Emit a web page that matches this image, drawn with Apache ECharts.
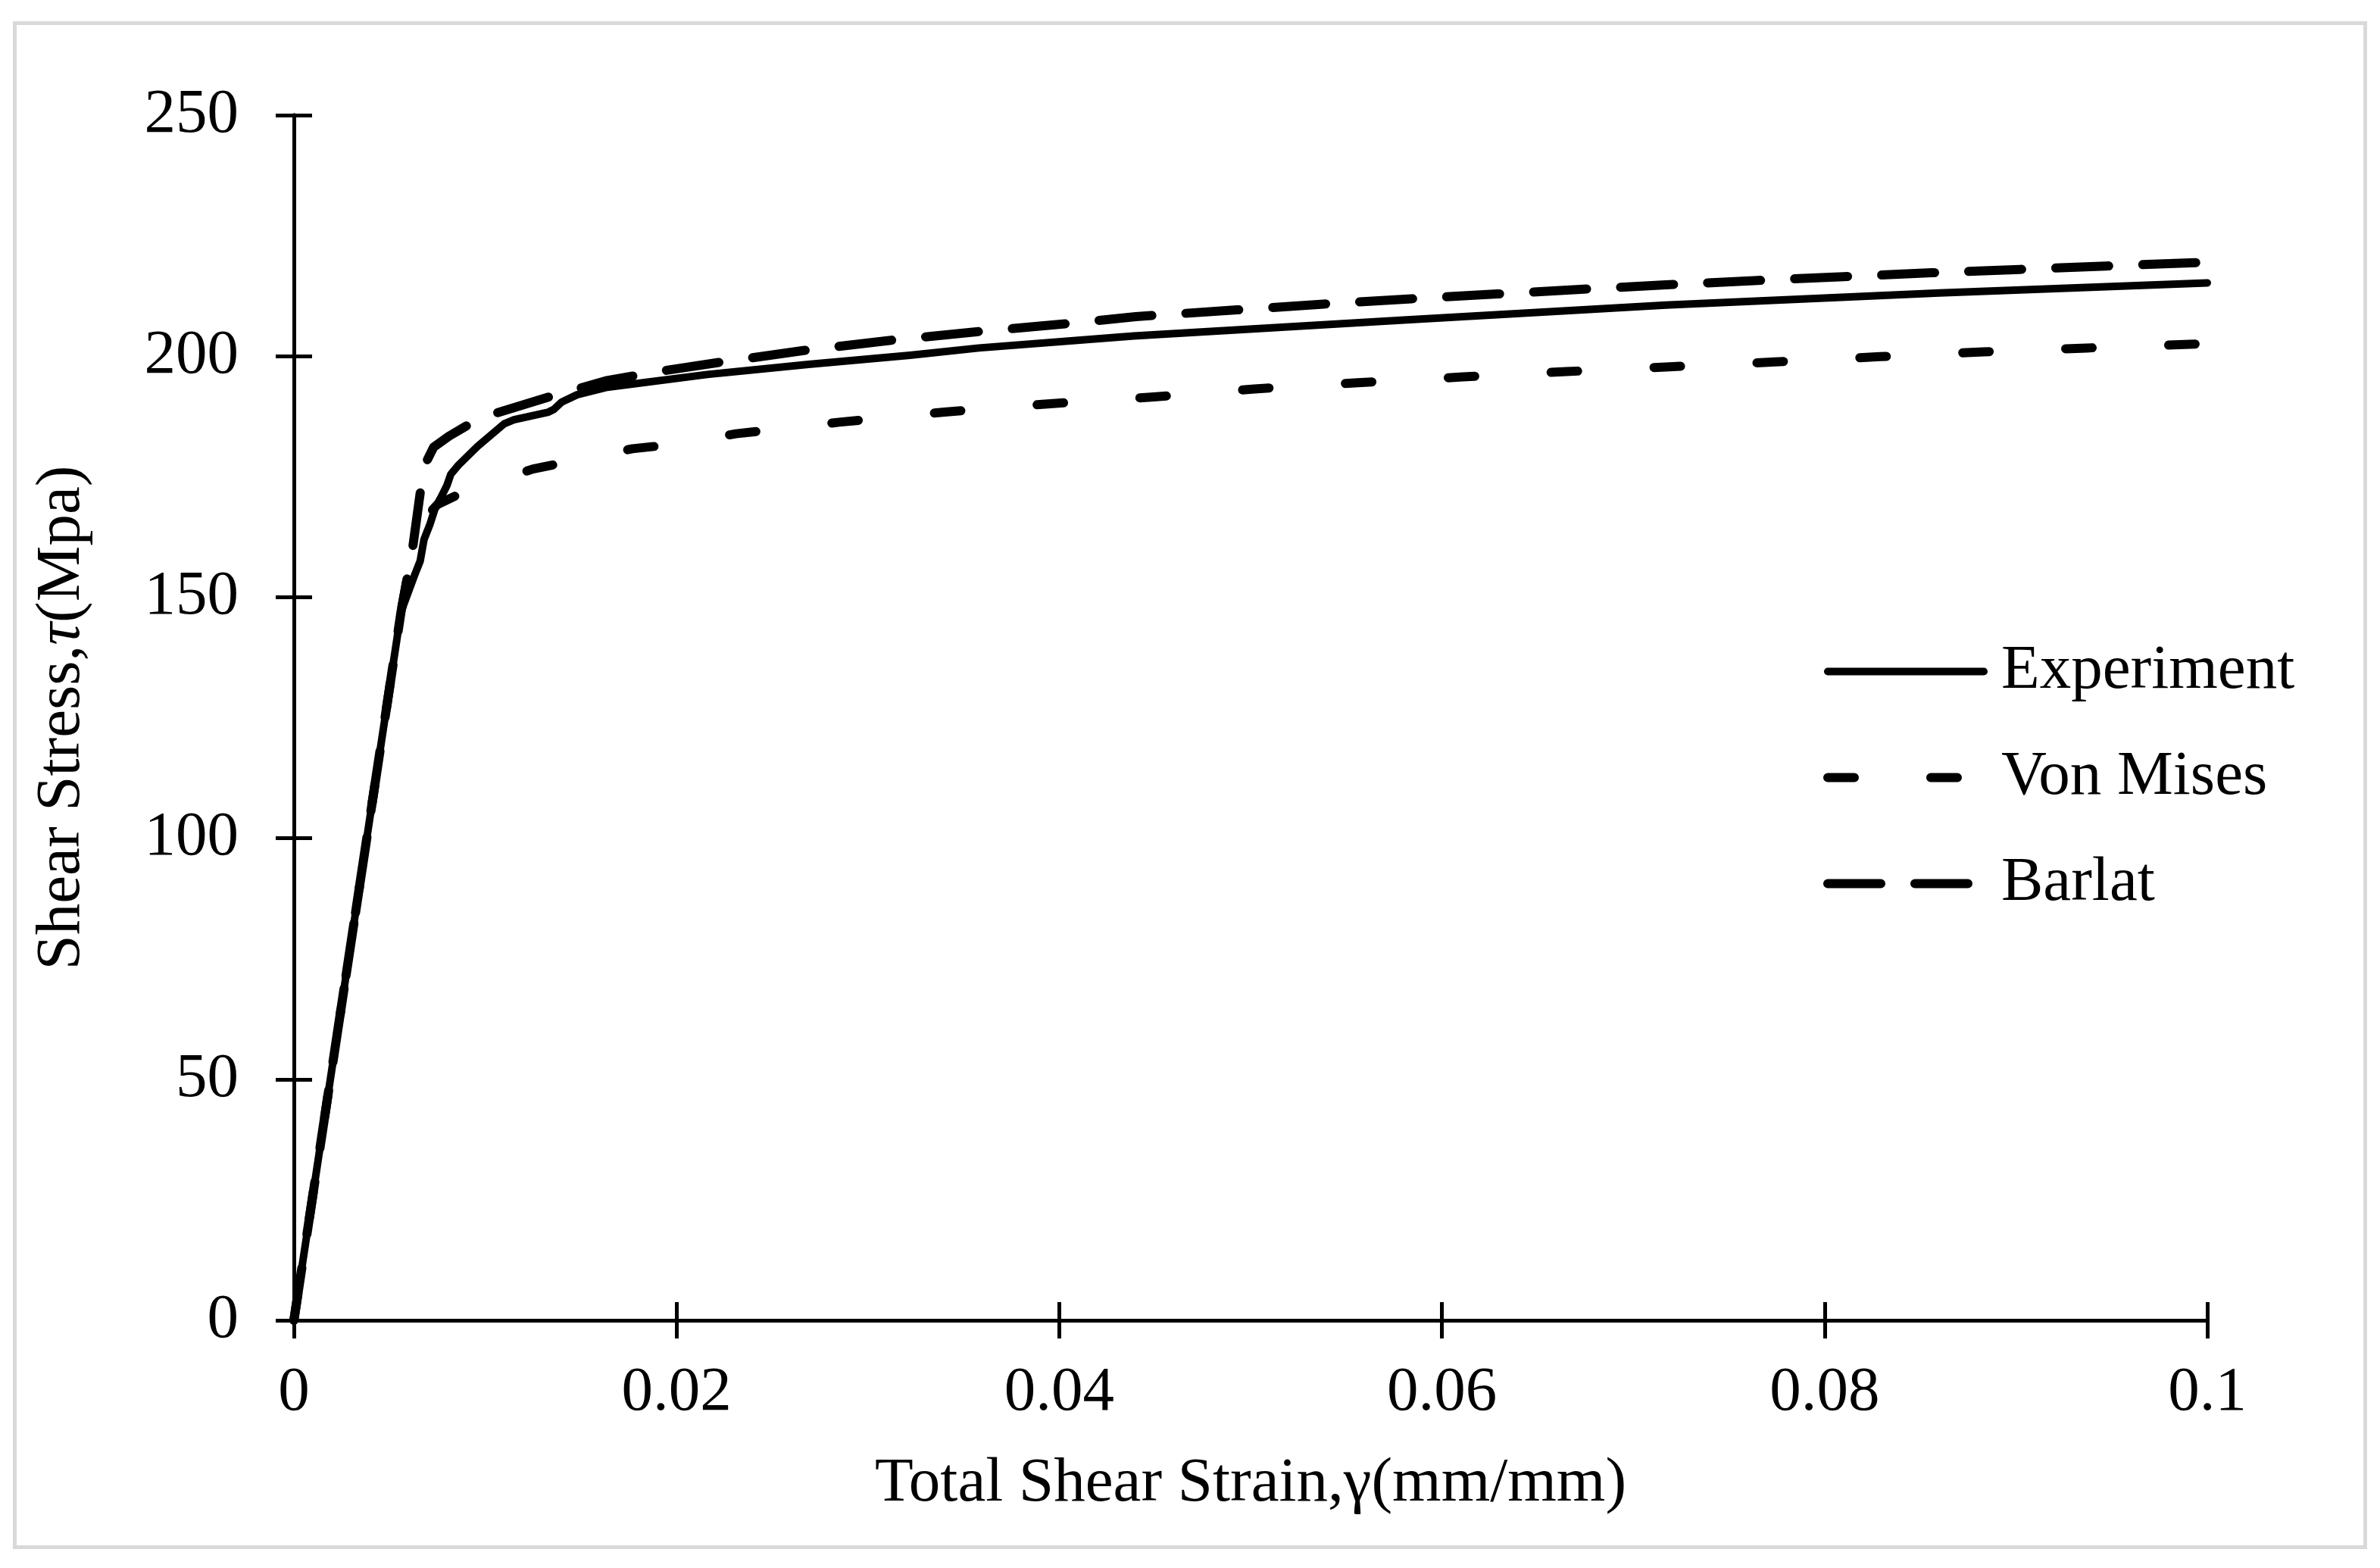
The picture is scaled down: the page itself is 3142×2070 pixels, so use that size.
<!DOCTYPE html>
<html>
<head>
<meta charset="utf-8">
<script src="https://cdn.jsdelivr.net/npm/echarts@6/dist/echarts.min.js"></script>
<style>
html,body{margin:0;padding:0;background:#fff;}
#chart{width:3142px;height:2070px;}
</style>
</head>
<body>
<div id="chart"></div>
<script>
// ---- data ----
const seriesNames = ['Experiment', 'Von Mises', 'Barlat'];
const xTicks = [0, 0.02, 0.04, 0.06, 0.08, 0.1];
const yTicks = [0, 50, 100, 150, 200, 250];

const expStrain = [0, 0.0056, 0.0063, 0.0066, 0.0068, 0.0071, 0.0074, 0.0077, 0.008, 0.0082, 0.0086, 0.0096, 0.011, 0.0115, 0.0133, 0.0136, 0.014, 0.0148, 0.0163, 0.0216, 0.0269, 0.0322, 0.0358, 0.0439, 0.058, 0.0717, 0.086, 0.1];
const expStress = [0, 147, 154.5, 157.5, 162, 165, 168.7, 170.8, 173.2, 175.5, 177.4, 181.3, 186, 186.8, 188.4, 189, 190.5, 192, 193.5, 196.2, 198.3, 200.2, 201.7, 204.2, 207.5, 210.6, 213.1, 215.2];

const vmStrain = [0, 0.0056, 0.006, 0.0066, 0.0071, 0.0075, 0.0089, 0.0125, 0.0141, 0.0177, 0.0196, 0.0231, 0.0285, 0.034, 0.0394, 0.0448, 0.0502, 0.0556, 0.0611, 0.0665, 0.0719, 0.0774, 0.0829, 0.0883, 0.0937, 0.1];
const vmStress = [0, 147, 155.6, 163.5, 167.5, 169.2, 171.9, 176.6, 177.9, 180.8, 181.6, 183.9, 186.3, 188.4, 190.1, 191.5, 193.2, 194.5, 195.7, 196.8, 197.8, 198.8, 199.9, 200.9, 201.7, 202.6];

const barStrain = [0, 0.0056, 0.0062, 0.0066, 0.0069, 0.0073, 0.0081, 0.009, 0.0105, 0.0133, 0.0149, 0.0163, 0.0192, 0.0222, 0.0267, 0.0312, 0.0358, 0.0403, 0.044, 0.0493, 0.0538, 0.0584, 0.0629, 0.0674, 0.0717, 0.0765, 0.081, 0.0856, 0.0902, 0.0947, 0.1];
const barStress = [0, 147, 160, 171.6, 177.9, 181.1, 183.4, 185.5, 188.1, 191.5, 193.3, 194.9, 196.9, 198.7, 201.2, 203.3, 205.1, 206.7, 208.2, 209.6, 210.8, 211.9, 212.9, 213.9, 214.8, 215.7, 216.5, 217.3, 218, 218.7, 219.5];

function zip(xs, ys) { return xs.map((x, i) => [x, ys[i]]); }

const FONT = 'Liberation Serif';
const FS = 83;
const xMin = xTicks[0], xMax = xTicks[xTicks.length - 1], xInt = xTicks[1] - xTicks[0];
const yMin = yTicks[0], yMax = yTicks[yTicks.length - 1], yInt = yTicks[1] - yTicks[0];

const chart = echarts.init(document.getElementById('chart'), null, {renderer: 'canvas'});

const baseX = {
  type: 'value', min: xMin, max: xMax, interval: xInt,
  position: 'bottom', splitLine: {show: false},
  axisLine: {show: true, lineStyle: {color: '#000', width: 5}}
};
const baseY = {
  type: 'value', min: yMin, max: yMax, interval: yInt,
  position: 'left', splitLine: {show: false},
  axisLine: {show: true, lineStyle: {color: '#000', width: 5}}
};

const lineCommon = {
  type: 'line', showSymbol: false, symbol: 'none', smooth: false,
  xAxisIndex: 0, yAxisIndex: 0, silent: true
};

const styles = [
  {color: '#000', width: 10, type: 'solid', cap: 'round', join: 'round'},
  {color: '#000', width: 12, type: [35, 101], cap: 'round', join: 'round'},
  {color: '#000', width: 12, type: [70, 45], cap: 'round', join: 'round'}
];

chart.setOption({
  animation: false,
  backgroundColor: '#fff',
  textStyle: {fontFamily: FONT},
  graphic: [{
    type: 'rect', left: 17, top: 28, silent: true, z: -10,
    shape: {width: 3103, height: 2012},
    style: {fill: '#fff', stroke: '#d9d9d9', lineWidth: 5}
  }],
  grid: {left: 388, right: 228, top: 152, bottom: 327, containLabel: false},
  xAxis: [
    Object.assign({}, baseX, {
      name: 'Total Shear Strain,γ(mm/mm)',
      nameLocation: 'middle', nameGap: 175,
      nameTextStyle: {fontFamily: FONT, fontSize: FS, color: '#000', lineHeight: FS},
      axisTick: {show: true, inside: false, length: 24, lineStyle: {color: '#000', width: 5}},
      axisLabel: {show: true, margin: 55, fontFamily: FONT, fontSize: FS, color: '#000', lineHeight: FS,
        formatter: v => String(+v.toFixed(4))}
    }),
    Object.assign({}, baseX, {
      axisTick: {show: true, inside: true, length: 24, lineStyle: {color: '#000', width: 5}},
      axisLabel: {show: false}
    })
  ],
  yAxis: [
    Object.assign({}, baseY, {
      name: 'Shear Stress,{i|τ}(Mpa)',
      nameLocation: 'middle', nameGap: 264, nameRotate: 90,
      nameTextStyle: {fontFamily: FONT, fontSize: FS, color: '#000', lineHeight: FS,
        rich: {i: {fontFamily: FONT, fontSize: FS, fontStyle: 'italic', color: '#000'}}},
      axisTick: {show: true, inside: false, length: 24, lineStyle: {color: '#000', width: 5}},
      axisLabel: {show: true, margin: 73, fontFamily: FONT, fontSize: FS, color: '#000'}
    }),
    Object.assign({}, baseY, {
      axisTick: {show: true, inside: true, length: 24, lineStyle: {color: '#000', width: 5}},
      axisLabel: {show: false}
    })
  ],
  legend: {
    orient: 'vertical', left: 2402, top: 840,
    itemWidth: 206, itemHeight: 20, itemGap: 57,
    data: seriesNames.map((n, i) => ({
      name: n,
      itemStyle: {opacity: 0, color: 'rgba(0,0,0,0)', borderWidth: 0},
      lineStyle: {color: '#000', width: styles[i].width, type: styles[i].type, cap: 'round', join: 'round', opacity: 1}
    })),
    itemStyle: {opacity: 0, color: 'rgba(0,0,0,0)', borderWidth: 0},
    textStyle: {fontFamily: FONT, fontSize: FS, color: '#000', lineHeight: FS, padding: [0, 0, 0, 18]},
    selectedMode: false
  },
  series: [
    Object.assign({}, lineCommon, {
      name: seriesNames[0], data: zip(expStrain, expStress), z: 3,
      lineStyle: styles[0], itemStyle: {color: '#000'}
    }),
    Object.assign({}, lineCommon, {
      name: seriesNames[1], data: zip(vmStrain, vmStress), z: 2,
      lineStyle: styles[1], itemStyle: {color: '#000'}
    }),
    Object.assign({}, lineCommon, {
      name: seriesNames[2], data: zip(barStrain, barStress), z: 2,
      lineStyle: styles[2], itemStyle: {color: '#000'}
    })
  ]
});
</script>
</body>
</html>
